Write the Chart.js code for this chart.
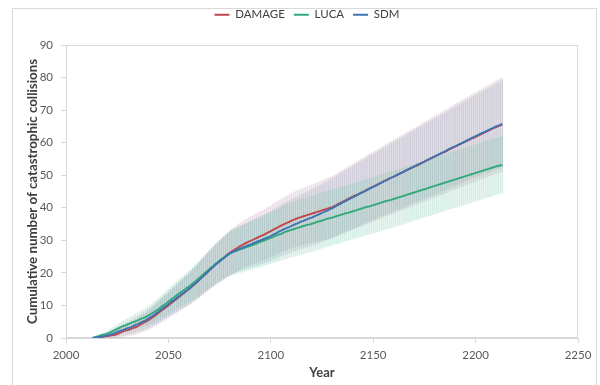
<!DOCTYPE html>
<html>
<head>
<meta charset="utf-8">
<script src="https://cdn.jsdelivr.net/npm/chart.js@4"></script>
<style>
  html, body { margin: 0; padding: 0; background: #ffffff; }
  #wrap { width: 600px; height: 385px; }
</style>
</head>
<body>
<div id="wrap"><canvas id="chart" width="600" height="385"></canvas></div>
<script>
// Years 2013 .. 2213, one value per year
const FIRST_YEAR = 2013;

// Cumulative number of catastrophic collisions (mean of Monte Carlo runs)
const DAMAGE = [
  0.0, 0.1, 0.1, 0.2, 0.3, 0.4, 0.5,
  0.6, 0.7, 0.8, 0.9, 1.0, 1.2, 1.5, 1.8, 2.1, 2.3,
  2.4, 2.6, 2.9, 3.1, 3.3, 3.6, 4.0, 4.4, 4.7, 5.0,
  5.4, 5.8, 6.2, 6.7, 7.1, 7.6, 8.1, 8.6, 9.0, 9.5,
  10.0, 10.5, 11.0, 11.5, 12.0, 12.5, 13.0, 13.5, 14.0, 14.5,
  15.0, 15.5, 16.1, 16.6, 17.2, 17.8, 18.4, 19.0, 19.6, 20.2,
  20.8, 21.4, 22.0, 22.6, 23.1, 23.6, 24.1, 24.6, 25.2, 25.7,
  26.2, 26.6, 27.0, 27.4, 27.8, 28.2, 28.5, 28.9, 29.2, 29.5,
  29.8, 30.1, 30.4, 30.7, 31.0, 31.3, 31.5, 31.8, 32.2, 32.5,
  32.8, 33.2, 33.5, 33.8, 34.2, 34.5, 34.8, 35.1, 35.4, 35.7,
  36.0, 36.3, 36.5, 36.8, 37.0, 37.2, 37.4, 37.6, 37.8, 38.0,
  38.2, 38.4, 38.6, 38.8, 39.0, 39.2, 39.4, 39.6, 39.8, 40.0,
  40.2, 40.5, 40.8, 41.2, 41.5, 41.8, 42.1, 42.5, 42.8, 43.1,
  43.4, 43.7, 44.0, 44.3, 44.6, 44.9, 45.2, 45.6, 45.9, 46.2,
  46.5, 46.8, 47.1, 47.4, 47.7, 48.1, 48.4, 48.7, 49.0, 49.3,
  49.6, 49.9, 50.2, 50.5, 50.8, 51.1, 51.4, 51.7, 52.0, 52.3,
  52.6, 52.9, 53.2, 53.5, 53.9, 54.2, 54.5, 54.8, 55.1, 55.4,
  55.7, 56.0, 56.3, 56.6, 56.9, 57.2, 57.5, 57.9, 58.2, 58.5,
  58.8, 59.1, 59.4, 59.7, 60.0, 60.3, 60.6, 60.9, 61.2, 61.5,
  61.8, 62.1, 62.4, 62.7, 63.0, 63.3, 63.6, 63.9, 64.2, 64.5,
  64.8, 65.0, 65.3, 65.5
];

const LUCA = [
  0.0, 0.2, 0.4, 0.6, 0.8, 1.0, 1.1,
  1.3, 1.6, 1.9, 2.2, 2.5, 2.8, 3.1, 3.4, 3.7, 3.9,
  4.2, 4.4, 4.7, 4.9, 5.2, 5.4, 5.7, 6.0, 6.2, 6.5,
  6.8, 7.2, 7.6, 8.0, 8.4, 8.8, 9.3, 9.8, 10.2, 10.7,
  11.2, 11.7, 12.2, 12.6, 13.1, 13.6, 14.0, 14.5, 14.9, 15.4,
  15.8, 16.3, 16.8, 17.3, 17.9, 18.4, 19.0, 19.5, 20.1, 20.6,
  21.2, 21.7, 22.2, 22.8, 23.3, 23.8, 24.3, 24.7, 25.2, 25.6,
  26.0, 26.3, 26.5, 26.7, 27.0, 27.2, 27.4, 27.6, 27.9, 28.1,
  28.3, 28.5, 28.8, 29.0, 29.3, 29.5, 29.8, 30.0, 30.3, 30.5,
  30.8, 31.0, 31.3, 31.5, 31.8, 32.0, 32.3, 32.6, 32.8, 33.0,
  33.2, 33.4, 33.6, 33.8, 34.0, 34.2, 34.4, 34.6, 34.8, 34.9,
  35.1, 35.3, 35.5, 35.7, 35.9, 36.1, 36.3, 36.5, 36.7, 36.8,
  37.0, 37.2, 37.4, 37.6, 37.8, 38.0, 38.2, 38.4, 38.5, 38.7,
  38.9, 39.1, 39.3, 39.5, 39.7, 39.9, 40.1, 40.3, 40.4, 40.6,
  40.8, 41.0, 41.2, 41.4, 41.6, 41.8, 42.0, 42.2, 42.3, 42.5,
  42.7, 42.9, 43.1, 43.3, 43.5, 43.7, 43.9, 44.1, 44.3, 44.5,
  44.7, 44.9, 45.1, 45.3, 45.5, 45.7, 45.9, 46.1, 46.3, 46.5,
  46.7, 46.9, 47.1, 47.3, 47.5, 47.7, 47.9, 48.1, 48.3, 48.5,
  48.7, 48.9, 49.1, 49.3, 49.5, 49.7, 49.9, 50.1, 50.3, 50.5,
  50.7, 50.9, 51.1, 51.3, 51.5, 51.7, 51.9, 52.1, 52.3, 52.5,
  52.7, 52.9, 53.0, 53.2
];

const SDM = [
  0.0, 0.1, 0.2, 0.3, 0.4, 0.5, 0.6,
  0.8, 0.9, 1.1, 1.3, 1.6, 1.9, 2.1, 2.3, 2.5, 2.8,
  3.0, 3.2, 3.4, 3.7, 4.0, 4.3, 4.6, 4.9, 5.2, 5.5,
  5.9, 6.3, 6.7, 7.1, 7.6, 8.0, 8.5, 9.0, 9.5, 9.9,
  10.4, 10.9, 11.4, 11.8, 12.3, 12.8, 13.2, 13.7, 14.2, 14.6,
  15.1, 15.6, 16.2, 16.7, 17.3, 17.8, 18.4, 19.0, 19.6, 20.2,
  20.8, 21.4, 21.9, 22.5, 23.0, 23.5, 24.0, 24.5, 25.0, 25.5,
  26.0, 26.3, 26.6, 26.9, 27.2, 27.5, 27.7, 28.0, 28.2, 28.5,
  28.7, 29.0, 29.3, 29.5, 29.8, 30.0, 30.3, 30.5, 30.8, 31.0,
  31.3, 31.7, 32.0, 32.3, 32.7, 33.0, 33.3, 33.6, 33.8, 34.1,
  34.4, 34.7, 35.0, 35.2, 35.5, 35.8, 36.0, 36.3, 36.5, 36.8,
  37.0, 37.3, 37.6, 37.8, 38.1, 38.4, 38.7, 39.0, 39.3, 39.6,
  39.9, 40.2, 40.6, 40.9, 41.2, 41.6, 41.9, 42.2, 42.6, 42.9,
  43.2, 43.5, 43.8, 44.2, 44.5, 44.8, 45.1, 45.4, 45.8, 46.1,
  46.4, 46.7, 47.0, 47.4, 47.7, 48.0, 48.3, 48.6, 49.0, 49.3,
  49.6, 49.9, 50.2, 50.5, 50.8, 51.1, 51.5, 51.8, 52.1, 52.4,
  52.7, 53.0, 53.3, 53.6, 53.9, 54.2, 54.6, 54.9, 55.2, 55.5,
  55.8, 56.1, 56.4, 56.7, 57.0, 57.3, 57.7, 58.0, 58.3, 58.6,
  58.9, 59.2, 59.5, 59.8, 60.1, 60.4, 60.8, 61.1, 61.4, 61.7,
  62.0, 62.3, 62.6, 62.9, 63.2, 63.5, 63.8, 64.1, 64.4, 64.7,
  65.0, 65.2, 65.5, 65.8
];

// One standard deviation either side of the mean
const DAMAGE_SD = [
  0.0, 0.2, 0.3, 0.4, 0.5, 0.6, 0.7,
  0.8, 0.9, 1.0, 1.1, 1.2, 1.3, 1.4, 1.5, 1.6, 1.7,
  1.8, 1.9, 2.0, 2.1, 2.2, 2.3, 2.4, 2.5, 2.6, 2.7,
  2.8, 2.9, 3.0, 3.1, 3.2, 3.3, 3.4, 3.5, 3.6, 3.7,
  3.8, 3.9, 4.0, 4.1, 4.2, 4.3, 4.4, 4.5, 4.6, 4.7,
  4.8, 4.9, 5.0, 5.1, 5.2, 5.3, 5.4, 5.5, 5.6, 5.7,
  5.8, 5.9, 6.0, 6.1, 6.2, 6.3, 6.4, 6.5, 6.6, 6.7,
  6.8, 6.9, 7.0, 7.0, 7.1, 7.1, 7.2, 7.2, 7.3, 7.3,
  7.4, 7.4, 7.5, 7.5, 7.6, 7.6, 7.7, 7.7, 7.8, 7.8,
  7.9, 7.9, 8.0, 8.0, 8.1, 8.1, 8.2, 8.2, 8.3, 8.3,
  8.4, 8.4, 8.5, 8.5, 8.6, 8.6, 8.7, 8.7, 8.8, 8.8,
  8.9, 8.9, 9.0, 9.0, 9.1, 9.2, 9.2, 9.3, 9.3, 9.4,
  9.4, 9.5, 9.5, 9.6, 9.7, 9.7, 9.8, 9.8, 9.9, 10.0,
  10.0, 10.1, 10.1, 10.2, 10.3, 10.3, 10.4, 10.4, 10.5, 10.6,
  10.6, 10.7, 10.7, 10.8, 10.9, 10.9, 11.0, 11.0, 11.1, 11.2,
  11.2, 11.3, 11.3, 11.4, 11.5, 11.5, 11.6, 11.6, 11.7, 11.8,
  11.8, 11.9, 11.9, 12.0, 12.1, 12.1, 12.2, 12.2, 12.3, 12.4,
  12.4, 12.5, 12.5, 12.6, 12.7, 12.7, 12.8, 12.8, 12.9, 13.0,
  13.0, 13.1, 13.1, 13.2, 13.3, 13.3, 13.4, 13.4, 13.5, 13.6,
  13.6, 13.7, 13.7, 13.8, 13.9, 13.9, 14.0, 14.0, 14.1, 14.2,
  14.2, 14.3, 14.3, 14.4
];

const LUCA_SD = [
  0.0, 0.2, 0.3, 0.4, 0.5, 0.6, 0.7,
  0.8, 0.9, 1.0, 1.1, 1.2, 1.3, 1.4, 1.5, 1.6, 1.7,
  1.8, 1.9, 2.0, 2.1, 2.2, 2.3, 2.4, 2.5, 2.6, 2.7,
  2.8, 2.9, 3.0, 3.1, 3.2, 3.3, 3.4, 3.5, 3.6, 3.7,
  3.8, 3.9, 4.0, 4.1, 4.2, 4.3, 4.4, 4.5, 4.6, 4.7,
  4.8, 4.9, 5.0, 5.1, 5.2, 5.3, 5.4, 5.5, 5.6, 5.7,
  5.8, 5.9, 6.0, 6.1, 6.2, 6.3, 6.4, 6.5, 6.6, 6.7,
  6.8, 6.9, 7.0, 7.0, 7.1, 7.1, 7.2, 7.2, 7.3, 7.3,
  7.4, 7.4, 7.5, 7.5, 7.6, 7.6, 7.7, 7.7, 7.8, 7.8,
  7.9, 7.9, 8.0, 8.0, 8.1, 8.1, 8.2, 8.2, 8.3, 8.3,
  8.4, 8.4, 8.4, 8.4, 8.5, 8.5, 8.5, 8.5, 8.5, 8.5,
  8.5, 8.5, 8.5, 8.5, 8.5, 8.5, 8.5, 8.5, 8.5, 8.5,
  8.5, 8.5, 8.5, 8.5, 8.5, 8.5, 8.5, 8.5, 8.5, 8.5,
  8.5, 8.5, 8.5, 8.5, 8.5, 8.5, 8.5, 8.5, 8.5, 8.5,
  8.6, 8.6, 8.6, 8.6, 8.6, 8.6, 8.6, 8.6, 8.6, 8.6,
  8.6, 8.6, 8.6, 8.6, 8.6, 8.6, 8.6, 8.6, 8.6, 8.6,
  8.6, 8.6, 8.6, 8.6, 8.6, 8.6, 8.6, 8.6, 8.6, 8.6,
  8.6, 8.6, 8.6, 8.6, 8.6, 8.6, 8.6, 8.6, 8.6, 8.6,
  8.7, 8.7, 8.7, 8.7, 8.7, 8.7, 8.7, 8.7, 8.7, 8.7,
  8.7, 8.7, 8.7, 8.7, 8.7, 8.7, 8.7, 8.7, 8.7, 8.7,
  8.7, 8.7, 8.7, 8.7
];

const SDM_SD = [
  0.0, 0.2, 0.3, 0.4, 0.5, 0.6, 0.7,
  0.8, 0.9, 1.0, 1.1, 1.2, 1.3, 1.4, 1.5, 1.6, 1.7,
  1.8, 1.9, 2.0, 2.1, 2.2, 2.3, 2.4, 2.5, 2.6, 2.7,
  2.8, 2.9, 3.0, 3.1, 3.2, 3.3, 3.4, 3.5, 3.6, 3.7,
  3.8, 3.9, 4.0, 4.1, 4.2, 4.3, 4.4, 4.5, 4.6, 4.7,
  4.8, 4.9, 5.0, 5.1, 5.2, 5.3, 5.4, 5.5, 5.6, 5.7,
  5.8, 5.9, 6.0, 6.1, 6.2, 6.3, 6.4, 6.4, 6.5, 6.5,
  6.6, 6.6, 6.7, 6.7, 6.8, 6.8, 6.9, 6.9, 7.0, 7.0,
  7.1, 7.1, 7.2, 7.2, 7.3, 7.3, 7.4, 7.4, 7.5, 7.5,
  7.6, 7.6, 7.7, 7.7, 7.8, 7.8, 7.9, 7.9, 8.0, 8.0,
  8.1, 8.1, 8.2, 8.2, 8.3, 8.3, 8.4, 8.4, 8.5, 8.5,
  8.6, 8.6, 8.7, 8.7, 8.8, 8.8, 8.9, 8.9, 9.0, 9.0,
  9.1, 9.1, 9.2, 9.2, 9.3, 9.3, 9.4, 9.4, 9.5, 9.5,
  9.6, 9.6, 9.7, 9.7, 9.8, 9.8, 9.9, 9.9, 10.0, 10.0,
  10.1, 10.1, 10.2, 10.2, 10.3, 10.3, 10.4, 10.4, 10.5, 10.5,
  10.6, 10.6, 10.7, 10.7, 10.8, 10.8, 10.9, 10.9, 11.0, 11.0,
  11.1, 11.1, 11.2, 11.2, 11.3, 11.3, 11.4, 11.4, 11.5, 11.5,
  11.6, 11.6, 11.7, 11.7, 11.8, 11.8, 11.9, 11.9, 12.0, 12.0,
  12.1, 12.1, 12.2, 12.2, 12.3, 12.3, 12.4, 12.4, 12.5, 12.5,
  12.6, 12.6, 12.7, 12.7, 12.8, 12.8, 12.9, 12.9, 13.0, 13.0,
  13.1, 13.1, 13.2, 13.2
];

// Axis ranges and tick steps
const X_MIN = 2000, X_MAX = 2250, X_STEP = 50;
const Y_MIN = 0, Y_MAX = 90, Y_STEP = 10;

const YEARS = SDM.map((_, i) => FIRST_YEAR + i);

const COLORS = {
  DAMAGE: '#c0464c',
  LUCA: '#33a97a',
  SDM: '#3f74b3'
};
const BAR_COLORS = {
  DAMAGE: 'rgba(190, 150, 168, 0.30)',
  LUCA: 'rgba(120, 200, 170, 0.30)',
  SDM: 'rgba(145, 165, 192, 0.30)'
};

const FONT = 'Lato, "Open Sans", "Liberation Sans", sans-serif';
const GRID_GREY = '#d9d9d9';

function meanPoints(values) {
  return YEARS.map((x, i) => ({ x, y: values[i] }));
}
function rangePoints(values, sd) {
  return YEARS.map((x, i) => ({ x, y: [values[i] - sd[i], values[i] + sd[i]] }));
}

function lineSet(label, values, order) {
  return {
    type: 'line',
    label,
    data: meanPoints(values),
    borderColor: COLORS[label],
    backgroundColor: COLORS[label],
    borderWidth: 1.9,
    pointRadius: 0,
    tension: 0,
    order
  };
}
function barSet(label, values, sd, order) {
  return {
    type: 'bar',
    label: label + ' ±1σ',
    data: rangePoints(values, sd),
    backgroundColor: BAR_COLORS[label],
    borderWidth: 0,
    barThickness: 1,
    grouped: false,
    order
  };
}

// Fixed legend band height above the plot
const legendBand = {
  id: 'legendBand',
  beforeLayout(chart) {
    const lg = chart.legend;
    if (lg && !lg._bandFixed) {
      const fit = lg.fit;
      lg.fit = function () { fit.call(this); this.height = 45; };
      lg._bandFixed = true;
    }
  }
};

// White page, outer frame and the frame round the plot area
const frames = {
  id: 'frames',
  beforeDraw(chart) {
    const ctx = chart.ctx;
    ctx.save();
    ctx.fillStyle = '#ffffff';
    ctx.fillRect(0, 0, chart.width, chart.height);
    ctx.strokeStyle = GRID_GREY;
    ctx.lineWidth = 1;
    ctx.strokeRect(12.5, 8.5, 584, 400);
    ctx.restore();
  },
  beforeDatasetsDraw(chart) {
    const { ctx, chartArea: a } = chart;
    ctx.save();
    ctx.strokeStyle = GRID_GREY;
    ctx.lineWidth = 1;
    ctx.strokeRect(Math.round(a.left) + 0.5, Math.round(a.top) + 0.5,
      Math.round(a.right - a.left) - 1, Math.round(a.bottom - a.top) - 1);
    ctx.restore();
  }
};

new Chart(document.getElementById('chart'), {
  type: 'line',
  data: {
    datasets: [
      lineSet('DAMAGE', DAMAGE, 2),
      lineSet('LUCA', LUCA, 1),
      lineSet('SDM', SDM, 0),
      barSet('DAMAGE', DAMAGE, DAMAGE_SD, 5),
      barSet('SDM', SDM, SDM_SD, 4),
      barSet('LUCA', LUCA, LUCA_SD, 3)
    ]
  },
  options: {
    responsive: false,
    animation: false,
    layout: { padding: { left: 14, right: 0, top: 0, bottom: 0 } },
    plugins: {
      tooltip: { enabled: false },
      legend: {
        position: 'top',
        align: 'center',
        labels: {
          boxWidth: 15,
          boxHeight: 2,
          padding: 9,
          color: '#404040',
          font: { family: FONT, size: 11.5 },
          generateLabels(chart) {
            return chart.data.datasets
              .map((ds, i) => ({ ds, i }))
              .filter(o => o.ds.type === 'line')
              .map(o => ({
                text: o.ds.label,
                fillStyle: o.ds.borderColor,
                strokeStyle: o.ds.borderColor,
                lineWidth: 0,
                hidden: false,
                datasetIndex: o.i,
                fontColor: '#404040'
              }));
          }
        }
      }
    },
    scales: {
      x: {
        type: 'linear',
        min: X_MIN,
        max: X_MAX,
        offset: false,
        afterFit(s) { s.height = 47; s.paddingRight = 22; s.paddingLeft = 0; },
        ticks: {
          stepSize: X_STEP,
          padding: 5,
          color: '#595959',
          font: { family: FONT, size: 11.5 },
          callback: v => String(v),
          maxRotation: 0
        },
        grid: { display: true, drawOnChartArea: false, tickLength: 5, color: GRID_GREY, offset: false },
        border: { display: true, color: GRID_GREY },
        title: {
          display: true,
          text: 'Year',
          color: '#404040',
          font: { family: FONT, size: 13, weight: 'bold' },
          padding: { top: 4, bottom: 4 }
        }
      },
      y: {
        type: 'linear',
        min: Y_MIN,
        max: Y_MAX,
        afterFit(s) { s.width = 52; },
        ticks: {
          stepSize: Y_STEP,
          padding: 8,
          color: '#595959',
          font: { family: FONT, size: 11.5 }
        },
        grid: { display: true, drawOnChartArea: false, tickLength: 5, color: GRID_GREY },
        border: { display: true, color: GRID_GREY },
        title: {
          display: true,
          text: 'Cumulative number of catastrophic collisions',
          color: '#404040',
          font: { family: FONT, size: 13.3, weight: 'bold' },
          padding: { top: 11, bottom: 0 }
        }
      }
    }
  },
  plugins: [legendBand, frames]
});
</script>
</body>
</html>
